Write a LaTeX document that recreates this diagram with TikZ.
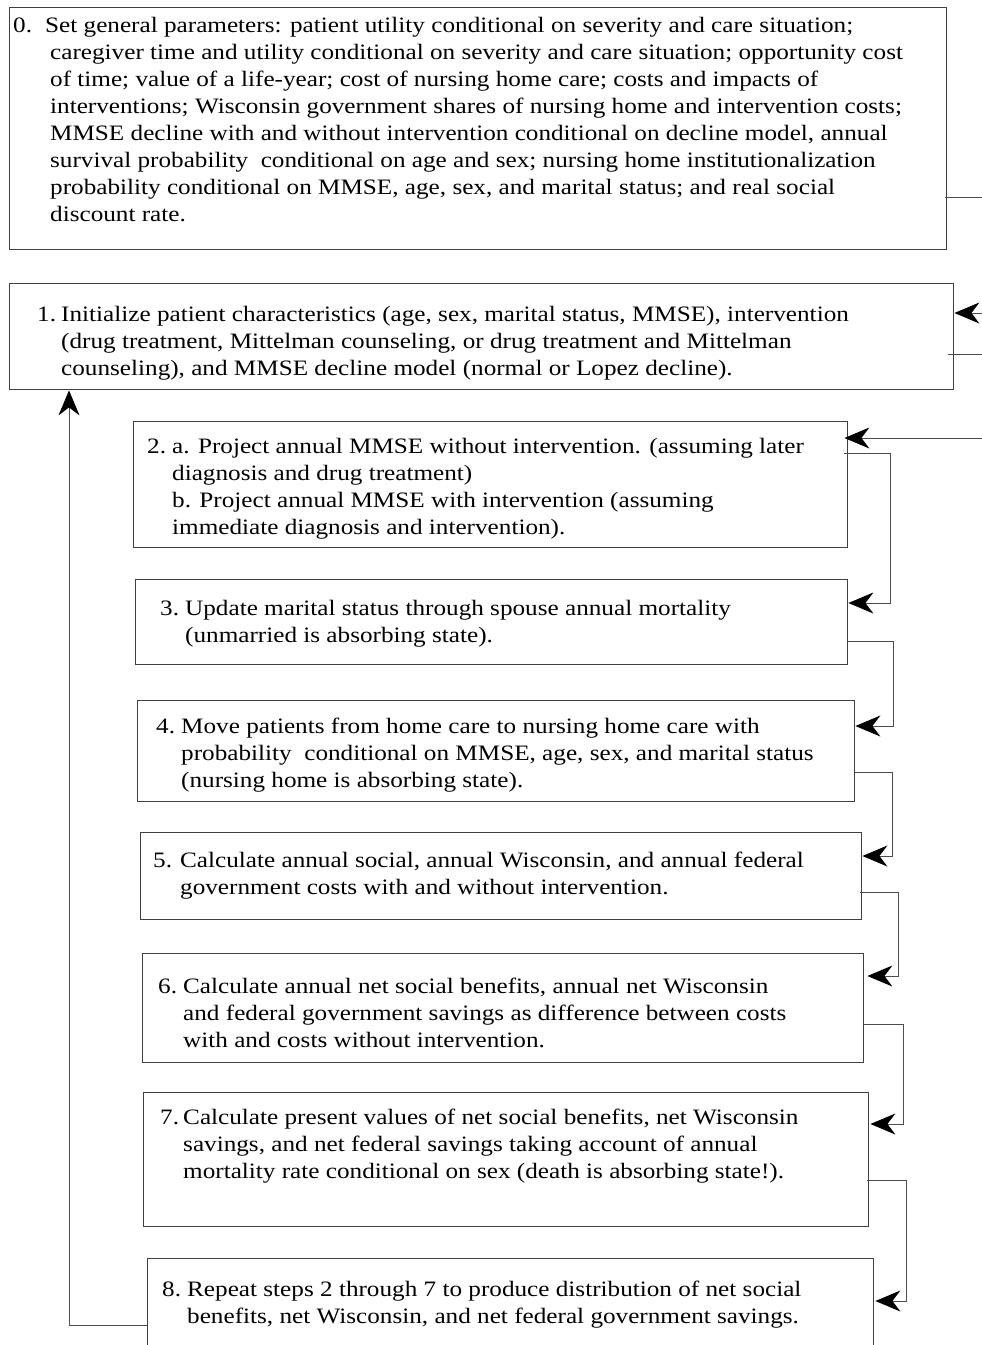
\documentclass[tikz,border=0pt]{standalone}
\usepackage{fontspec}
\setmainfont{Liberation Serif}[FakeStretch=1.145]
\usetikzlibrary{calc,arrows.meta}

\newcommand{\stepfont}{\fontsize{22}{27}\selectfont}
\newcommand{\stepitem}[3]{\makebox[#1][l]{#2}\begin{tabular}[t]{@{}l@{}}#3\end{tabular}}

\tikzset{
  stepbox/.style={draw=black!75, line width=1.4pt, inner sep=0pt, anchor=north west},
  steplabel/.style={inner sep=0pt, anchor=base west, font=\stepfont},
  feed/.style={draw=black!70, line width=1pt},
  flow/.style={feed, -{Stealth[length=25pt,width=21pt,inset=8pt,black]}}
}

\begin{document}
\begin{tikzpicture}[x=1pt,y=-1pt]
\clip (0,0) rectangle (982,1345);

% boxes
\node[stepbox, minimum width=937pt, minimum height=242pt] (b0) at (9,7) {};
\node[stepbox, minimum width=944pt, minimum height=106pt] (b1) at (9,283) {};
\node[stepbox, minimum width=714pt, minimum height=126pt] (b2) at (133,421) {};
\node[stepbox, minimum width=712pt, minimum height=85pt] (b3) at (135,579) {};
\node[stepbox, minimum width=717pt, minimum height=101pt] (b4) at (137,700) {};
\node[stepbox, minimum width=721pt, minimum height=87pt] (b5) at (140,832) {};
\node[stepbox, minimum width=721pt, minimum height=109pt] (b6) at (142,953) {};
\node[stepbox, minimum width=725pt, minimum height=134pt] (b7) at (143,1092) {};
\node[stepbox, minimum width=726pt, minimum height=110pt] (b8) at (147,1258) {};

% texts
\node[steplabel] (t0) at (13,32) {\stepitem{37pt}{0.}{\kern-5pt Set general parameters: patient utility conditional on severity and care situation;\\
caregiver time and utility conditional on severity and care situation; opportunity cost\\
of time; value of a life-year; cost of nursing home care; costs and impacts of\\
interventions; Wisconsin government shares of nursing home and intervention costs;\\
MMSE decline with and without intervention conditional on decline model, annual\\
survival probability\ \ conditional on age and sex; nursing home institutionalization\\
probability conditional on MMSE, age, sex, and marital status; and real social\\
discount rate.}};
\node[steplabel] (t1) at (37,321) {\stepitem{24pt}{1.}{Initialize patient characteristics (age, sex, marital status, MMSE), intervention\\
(drug treatment, Mittelman counseling, or drug treatment and Mittelman\\
counseling), and MMSE decline model (normal or Lopez decline).}};
\node[steplabel] (t2) at (147,453) {\stepitem{25pt}{2.}{a. Project annual MMSE without intervention. (assuming later\\
diagnosis and drug treatment)\\
b. Project annual MMSE with intervention (assuming\\
immediate diagnosis and intervention).}};
\node[steplabel] (t3) at (160,615) {\stepitem{25pt}{3.}{Update marital status through spouse annual mortality\\
(unmarried is absorbing state).}};
\node[steplabel] (t4) at (156,733) {\stepitem{25pt}{4.}{Move patients from home care to nursing home care with\\
probability\ \ conditional on MMSE, age, sex, and marital status\\
(nursing home is absorbing state).}};
\node[steplabel] (t5) at (153,867) {\stepitem{27pt}{5.}{Calculate annual social, annual Wisconsin, and annual federal\\
government costs with and without intervention.}};
\node[steplabel] (t6) at (158,993) {\stepitem{25pt}{6.}{Calculate annual net social benefits, annual net Wisconsin\\
and federal government savings as difference between costs\\
with and costs without intervention.}};
\node[steplabel] (t7) at (160,1124) {\stepitem{23pt}{7.}{Calculate present values of net social benefits, net Wisconsin\\
savings, and net federal savings taking account of annual\\
mortality rate conditional on sex (death is absorbing state!).}};
\node[steplabel] (t8) at (162,1296) {\stepitem{25pt}{8.}{Repeat steps 2 through 7 to produce distribution of net social\\
benefits, net Wisconsin, and net federal government savings.}};

% loose ends at the right margin
\coordinate (r0) at (982,197);
\coordinate (r1in) at (982,313);
\coordinate (r1out) at (982,354);
\coordinate (r2in) at (982,438);

\draw[feed] ($(b0.north east)+(-2,190)$) -- (r0);
\draw[flow] (r1in) -- ($(b1.north east)+(0,30)$);
\draw[feed] ($(b1.north east)+(-6,71)$) -- (r1out);
\draw[flow] (r2in) -- ($(b2.north east)+(-4,17)$);

% step to step
\draw[flow] ($(b2.north east)+(-4,32)$) -- ++(46,0) |- ($(b3.north east)+(0,24)$);
\draw[flow] ($(b3.north east)+(0,62)$) -- ++(45,0) |- ($(b4.north east)+(0,26)$);
\draw[flow] ($(b4.north east)+(0,72)$) -- ++(37,0) |- ($(b5.north east)+(0,24)$);
\draw[flow] ($(b5.north east)+(-2,60)$) -- ++(38,0) |- ($(b6.north east)+(3,23)$);
\draw[flow] ($(b6.north east)+(0,71)$) -- ++(39,0) |- ($(b7.north east)+(1,32)$);
\draw[flow] ($(b7.north east)+(-2,88)$) -- ++(39,0) |- ($(b8.north east)+(1,43)$);

% back to step 1
\draw[flow] ($(b8.north west)+(0,67)$) -| ($(b1.south west)+(60,0)$);
\end{tikzpicture}
\end{document}
